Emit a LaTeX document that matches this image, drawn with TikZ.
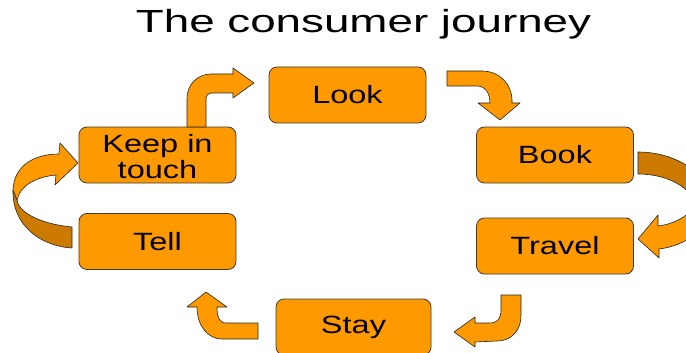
\documentclass[tikz,border=0pt]{standalone}
\usepackage{fontspec}
\setmainfont{Liberation Sans}
\definecolor{orgfill}{RGB}{255,153,0}
\definecolor{orgdark}{RGB}{204,122,0}
\definecolor{edgegray}{RGB}{60,60,60}
\begin{document}
\begin{tikzpicture}[x=1pt,y=-1pt,
  stagebox/.style={draw=edgegray, line width=0.8pt, fill=orgfill, rounded corners=8pt,
    minimum width=157pt, minimum height=56pt, inner sep=0pt, align=center,
    font=\fontsize{25}{27}\selectfont},
  stagetext/.style={inner sep=0pt, align=center, font=\fontsize{25}{26.5}\selectfont},
  blockarrow/.style={fill=orgfill, draw=black!85, line width=0.6pt, line join=round},
  blockdark/.style={fill=orgdark, draw=black!85, line width=0.6pt, line join=round}]
\useasboundingbox (0,0) rectangle (686,353);
\clip (0,0) rectangle (686,353);
\fill[white] (0,0) rectangle (686,353);

% title
\node[anchor=base, inner sep=0pt, font=\fontsize{32}{36}\selectfont] (title) at (363.5,33)
  {\scalebox{1.43}[1]{The consumer journey}};

% stages
\node[stagebox] (look)   at (347.5,95)  {\scalebox{1.3}[1]{Look}};
\node[stagebox] (book)   at (555,155)   {\scalebox{1.3}[1]{Book}};
\node[stagebox] (travel) at (555,246)   {\scalebox{1.3}[1]{Travel}};
\node[stagebox, minimum width=155pt] (stay) at (353.5,327) {\scalebox{1.3}[1]{Stay}};
\node[stagebox] (tell)   at (157.5,241.5) {\scalebox{1.3}[1]{Tell}};
\node[stagebox] (keep)   at (157.5,155) {};
\node[stagetext] (keeplabel) at (157.5,160)
  {\scalebox{1.3}[1]{\begin{tabular}{@{}c@{}}Keep in\\touch\end{tabular}}};

% Keep in touch -> Look (bent-up arrow)
\draw[blockarrow] (187,127) -- (187,98)
  .. controls (187,84.75) and (197.75,74) .. (211,74)
  -- (233,74) -- (233,68) -- (254,83) -- (233,98) -- (233,93) -- (211,93)
  .. controls (208.24,93) and (206,95.76) .. (206,98)
  -- (206,127) -- cycle;

% Look -> Book
\draw[blockarrow] (447,71) -- (482,71)
  .. controls (500,71) and (512,85) .. (512,100)
  -- (512,103) -- (520,103) -- (500,120) -- (478,103) -- (490,103)
  .. controls (490,93) and (485,86) .. (477,86)
  -- (447,86) -- cycle;

% Book -> Travel (curved 3D arrow)
\draw[blockdark] (638,152) .. controls (680,152) and (712,178) .. (714,205)
  -- (695,205) .. controls (692,188) and (668,174) .. (638,174) -- cycle;
\draw[blockarrow] (695,205) .. controls (690,215) and (675,224) .. (658,226)
  -- (658,215) -- (638,239) -- (659,258) -- (659,249)
  .. controls (685,246) and (712,228) .. (714,205) -- cycle;

% Travel -> Stay
\draw[blockarrow] (501,295) -- (521,295) -- (521,315)
  .. controls (521,332) and (510,341) .. (497,341)
  -- (475,342) -- (475,347) -- (454,332) -- (475,317) -- (475,323) -- (490,323)
  .. controls (498,323) and (501,318) .. (501,310) -- cycle;

% Stay -> Tell
\draw[blockarrow] (258,323) -- (226,323)
  .. controls (219,323) and (217,316) .. (217,309)
  -- (217,307) -- (227,307) -- (206,292) -- (187,307) -- (197,307)
  .. controls (197,326) and (208,339) .. (222,339)
  -- (258,339) -- cycle;

% Tell -> Keep in touch (curved 3D arrow)
\draw[blockdark] (13,190) .. controls (12,225) and (40,246) .. (72,248)
  -- (72,227) .. controls (40,224) and (18,212) .. (17,200) -- cycle;
\draw[blockarrow] (13,190) .. controls (14,165) and (35,154) .. (59,154)
  -- (60,143) -- (78,163) -- (55,185) -- (56,175)
  .. controls (35,177) and (20,186) .. (17,200) -- cycle;
\end{tikzpicture}
\end{document}
